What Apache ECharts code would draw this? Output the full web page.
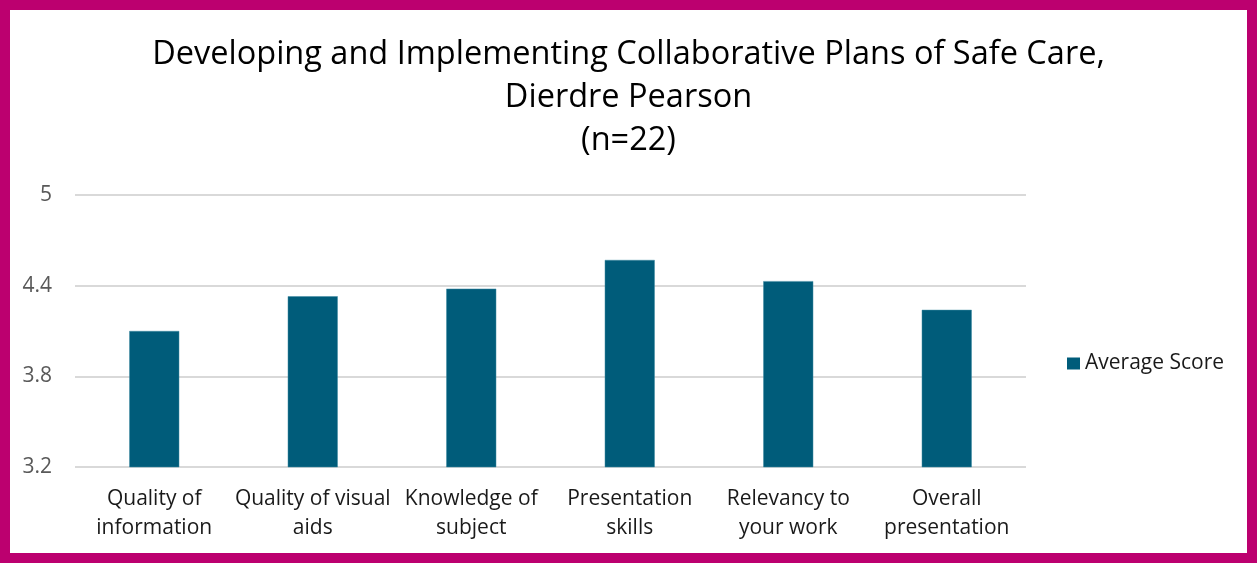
<!DOCTYPE html>
<html>
<head>
<meta charset="utf-8">
<script src="https://cdn.jsdelivr.net/npm/echarts@6/dist/echarts.min.js"></script>
<style>
    html, body { margin: 0; padding: 0; background: #fff; }
    #frame {
        width: 1257px; height: 563px;
        box-sizing: border-box;
        border: 10px solid #BC006F;
        background: #fff;
    }
    #chart { width: 1237px; height: 543px; }
</style>
</head>
<body>
<div id="frame"><div id="chart"></div></div>
<script>
    // categories and scores
    var categories = [
        'Quality of\ninformation',
        'Quality of visual\naids',
        'Knowledge of\nsubject',
        'Presentation\nskills',
        'Relevancy to\nyour work',
        'Overall\npresentation'
    ];
    var averageScore = [4.10, 4.33, 4.38, 4.57, 4.43, 4.24];
    var yTicks = [3.2, 3.8, 4.4, 5];

    var fontFamily = '"Open Sans", sans-serif';
    var myChart = echarts.init(document.getElementById('chart'));

    var option = {
        animation: false,
        title: {
            text: 'Developing and Implementing Collaborative Plans of Safe Care,\nDierdre Pearson\n(n=22)',
            left: 'center',
            top: 18,
            textStyle: {
                fontFamily: fontFamily,
                fontWeight: 'normal',
                fontSize: 32.5,
                lineHeight: 43,
                color: '#000'
            }
        },
        legend: {
            data: ['Average Score'],
            left: 1057,
            top: 343,
            padding: 0,
            itemWidth: 13,
            itemHeight: 12,
            itemGap: 6,
            icon: 'rect',
            itemStyle: { borderWidth: 0 },
            textStyle: {
                fontFamily: fontFamily,
                fontSize: 21,
                color: '#1a1a1a'
            }
        },
        grid: {
            left: 65,
            right: 221,
            top: 185,
            bottom: 86
        },
        xAxis: {
            type: 'category',
            data: categories,
            axisTick: { show: false },
            axisLine: { show: false },
            axisLabel: {
                interval: 0,
                margin: 18,
                fontFamily: fontFamily,
                fontSize: 21,
                lineHeight: 29,
                color: '#1a1a1a'
            }
        },
        yAxis: {
            type: 'value',
            min: yTicks[0],
            max: yTicks[yTicks.length - 1],
            interval: 0.6,
            axisLine: { show: false },
            axisTick: { show: false },
            splitLine: {
                lineStyle: { color: '#D9D9D9', width: 2 }
            },
            axisLabel: {
                margin: 23,
                fontFamily: fontFamily,
                fontSize: 21,
                color: '#595959',
                formatter: function (value) {
                    return String(Math.round(value * 10) / 10);
                }
            }
        },
        series: [
            {
                name: 'Average Score',
                type: 'bar',
                data: averageScore,
                barWidth: 50,
                itemStyle: {
                    color: '#005C7A',
                    borderColor: '#3E8AA3',
                    borderWidth: 0.5
                }
            }
        ]
    };

    myChart.setOption(option);
</script>
</body>
</html>
